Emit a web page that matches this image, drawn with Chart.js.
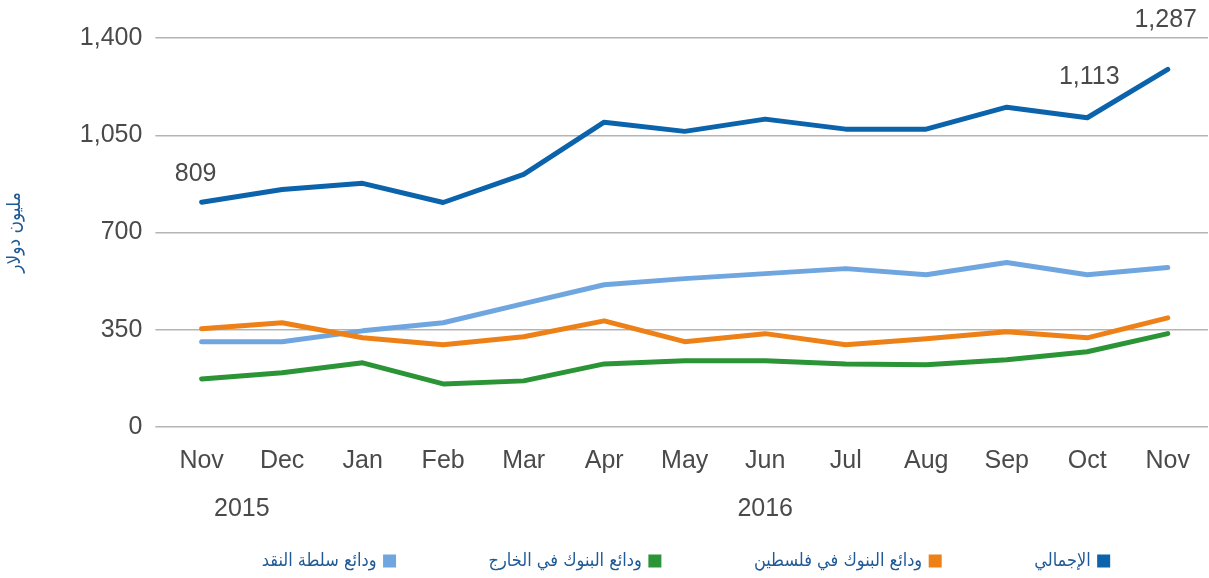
<!DOCTYPE html>
<html>
<head>
<meta charset="utf-8">
<script src="https://cdn.jsdelivr.net/npm/chart.js@4"></script>
<style>
	html, body { margin: 0; padding: 0; background: #fff; }
	#wrap { width: 1209px; height: 578px; }
</style>
</head>
<body>
<div id="wrap"><canvas id="chart" width="1209" height="578"></canvas></div>
<script>
'use strict'

const months = ['Nov', 'Dec', 'Jan', 'Feb', 'Mar', 'Apr', 'May', 'Jun', 'Jul', 'Aug', 'Sep', 'Oct', 'Nov']
const years = [
	{ label: '2015', from: 0, to: 1 },
	{ label: '2016', from: 2, to: 12 },
]
const total = [809, 855, 877, 808, 909, 1097, 1064, 1108, 1072, 1072, 1151, 1113, 1287]
const banksPalestine = [354, 375, 321, 296, 325, 382, 307, 336, 296, 318, 343, 321, 393]
const banksAbroad = [173, 195, 231, 155, 166, 227, 238, 238, 227, 224, 242, 271, 336]
const pmaDeposits = [307, 307, 346, 375, 444, 512, 534, 552, 570, 548, 592, 548, 574]
const yTicks = [0, 350, 700, 1050, 1400]
// which points of the total line carry a value label
const labelledPoints = [0, 11, 12]

const colors = {
	total: '#0b63ac',
	palestine: '#ee8018',
	abroad: '#2b9436',
	pma: '#6fa6e0',
	text: '#4a4a4a',
	legend: '#1f5a96',
	grid: '#b4b4b4',
}
const tickFont = { family: '"Liberation Sans", Arial, sans-serif', size: 25 }
const arabicFont = '"DejaVu Sans Condensed", "DejaVu Sans", sans-serif'
const legendGap = 95
const legendTrim = 80

const yearLabels = {
	id: 'yearLabels',
	afterDraw(chart) {
		const ctx = chart.ctx
		const x = chart.scales.x
		ctx.save()
		ctx.font = '25px "Liberation Sans", Arial, sans-serif'
		ctx.fillStyle = colors.text
		ctx.textAlign = 'center'
		ctx.textBaseline = 'middle'
		years.forEach((y) => {
			const px = (x.getPixelForValue(y.from) + x.getPixelForValue(y.to)) / 2
			ctx.fillText(y.label, px, chart.chartArea.bottom + 82)
		})
		ctx.restore()
	},
}

const pointLabels = {
	id: 'pointLabels',
	afterDatasetsDraw(chart) {
		const ctx = chart.ctx
		const meta = chart.getDatasetMeta(0)
		// nudge each label off its point: [dx, dy]
		const nudge = { 0: [-6, -28], 11: [2, -41], 12: [-2, -49] }
		ctx.save()
		ctx.font = '25px "Liberation Sans", Arial, sans-serif'
		ctx.fillStyle = colors.text
		ctx.textAlign = 'center'
		ctx.textBaseline = 'middle'
		labelledPoints.forEach((i) => {
			const pt = meta.data[i]
			ctx.fillText(total[i].toLocaleString('en-US'), pt.x + nudge[i][0], pt.y + nudge[i][1])
		})
		ctx.restore()
	},
}

// wide gaps between legend items without the same gap above them,
// and centre the legend under the plot area
const legendTweak = {
	id: 'legendTweak',
	afterInit(chart) {
		const lg = chart.legend
		const fit = lg.fit.bind(lg)
		lg.fit = function () {
			fit()
			this.height -= legendTrim
		}
	},
	afterLayout(chart) {
		const lg = chart.legend
		lg.top -= legendTrim - 4
		lg.left = chart.chartArea.left
		lg.right = chart.chartArea.right
		lg.width = lg.right - lg.left
	},
}

function line(label, data, color) {
	return {
		label: label,
		data: data,
		borderColor: color,
		backgroundColor: color,
		borderWidth: 5,
		pointRadius: 0,
		tension: 0,
		borderJoinStyle: 'round',
		borderCapStyle: 'round',
		clip: false,
	}
}

new Chart(document.getElementById('chart'), {
	type: 'line',
	data: {
		labels: months,
		datasets: [
			line('الإجمالي', total, colors.total),
			line('ودائع البنوك في فلسطين', banksPalestine, colors.palestine),
			line('ودائع البنوك في الخارج', banksAbroad, colors.abroad),
			line('ودائع سلطة النقد', pmaDeposits, colors.pma),
		],
	},
	options: {
		responsive: false,
		animation: false,
		layout: { padding: { top: 38, right: 1, left: 4, bottom: 2 } },
		plugins: {
			tooltip: { enabled: false },
			legend: {
				position: 'bottom',
				rtl: true,
				textDirection: 'rtl',
				labels: {
					usePointStyle: true,
					pointStyle: 'rect',
					boxWidth: 8,
					boxHeight: 8,
					padding: legendGap,
					color: colors.legend,
					font: { family: arabicFont, size: 18 },
				},
			},
		},
		scales: {
			x: {
				offset: true,
				grid: { display: false },
				border: { display: false },
				ticks: { color: colors.text, padding: 11, font: tickFont },
				afterFit(scale) { scale.height += 46 },
			},
			y: {
				min: 0,
				max: 1400,
				afterBuildTicks(scale) { scale.ticks = yTicks.map((v) => ({ value: v })) },
				grid: { color: colors.grid, lineWidth: 1.5, tickLength: 6 },
				border: { display: false },
				ticks: { color: colors.text, padding: 13, font: tickFont },
				title: {
					display: true,
					text: 'مليون دولار',
					color: colors.legend,
					padding: { top: 0, bottom: 40 },
					font: { family: arabicFont, size: 19 },
				},
			},
		},
	},
	plugins: [yearLabels, pointLabels, legendTweak],
})
</script>
</body>
</html>
